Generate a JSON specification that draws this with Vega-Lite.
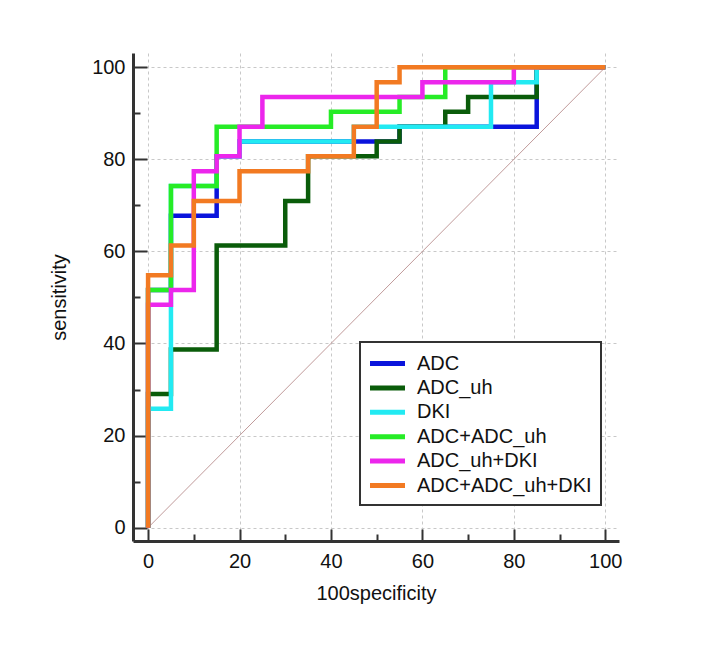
{
  "$schema": "https://vega.github.io/schema/vega-lite/v6.json",
  "width": 486,
  "height": 488,
  "autosize": "none",
  "padding": {"left": 133, "top": 53, "right": 95, "bottom": 124},
  "background": "white",
  "config": {
    "view": {"stroke": null},
    "font": "Liberation Sans",
    "legend": {"strokeWidth": 2},
    "axis": {
      "domainColor": "#333333",
      "domainWidth": 3,
      "tickColor": "#333333",
      "tickWidth": 2,
      "gridColor": "#c8c8c8",
      "gridDash": [3, 3],
      "gridWidth": 1,
      "labelFont": "Liberation Sans",
      "labelFontSize": 20,
      "labelColor": "#111111",
      "titleFont": "Liberation Sans",
      "titleFontSize": 20,
      "titleFontWeight": "normal",
      "titleColor": "#111111"
    }
  },
  "layer": [
    {
      "data": {"values": [{"x": 0, "y": 0}, {"x": 100, "y": 100}]},
      "mark": {"type": "line", "color": "#c09a9a", "strokeWidth": 1},
      "encoding": {
        "x": {
          "field": "x",
          "type": "quantitative",
          "scale": {"domain": [-3.3, 103], "nice": false, "zero": false},
          "axis": {
            "title": "100specificity",
            "values": [0, 5, 10, 15, 20, 25, 30, 35, 40, 45, 50, 55, 60, 65, 70, 75, 80, 85, 90, 95, 100],
            "labelExpr": "datum.value % 20 === 0 ? datum.label : ''",
            "tickSize": {"condition": {"test": "datum.value % 20 === 0", "value": -12}, "value": -7},
            "gridOpacity": {"condition": {"test": "datum.value % 20 === 0", "value": 1}, "value": 0},
            "labelPadding": 22,
            "labelFlush": false,
            "titlePadding": 12
          }
        },
        "y": {
          "field": "y",
          "type": "quantitative",
          "scale": {"domain": [-2.9, 103.1], "nice": false, "zero": false},
          "axis": {
            "title": "sensitivity",
            "values": [0, 5, 10, 15, 20, 25, 30, 35, 40, 45, 50, 55, 60, 65, 70, 75, 80, 85, 90, 95, 100],
            "labelExpr": "datum.value % 20 === 0 ? datum.label : ''",
            "tickSize": {"condition": {"test": "datum.value % 20 === 0", "value": -14}, "value": -7},
            "gridOpacity": {"condition": {"test": "datum.value % 20 === 0", "value": 1}, "value": 0},
            "labelPadding": 22,
            "labelFlush": false,
            "titlePadding": 22
          }
        }
      }
    },
    {
      "data": {
        "values": [
          {"series": "ADC", "i": 0, "fpr": 0, "sens": 0},
          {"series": "ADC", "i": 1, "fpr": 0, "sens": 51.61},
          {"series": "ADC", "i": 2, "fpr": 5, "sens": 67.74},
          {"series": "ADC", "i": 3, "fpr": 15, "sens": 80.65},
          {"series": "ADC", "i": 4, "fpr": 20, "sens": 83.87},
          {"series": "ADC", "i": 5, "fpr": 55, "sens": 87.1},
          {"series": "ADC", "i": 6, "fpr": 85, "sens": 100},
          {"series": "ADC", "i": 7, "fpr": 100, "sens": 100},
          {"series": "ADC_uh", "i": 0, "fpr": 0, "sens": 0},
          {"series": "ADC_uh", "i": 1, "fpr": 0, "sens": 29.03},
          {"series": "ADC_uh", "i": 2, "fpr": 5, "sens": 38.71},
          {"series": "ADC_uh", "i": 3, "fpr": 15, "sens": 61.29},
          {"series": "ADC_uh", "i": 4, "fpr": 30, "sens": 70.97},
          {"series": "ADC_uh", "i": 5, "fpr": 35, "sens": 80.65},
          {"series": "ADC_uh", "i": 6, "fpr": 50, "sens": 83.87},
          {"series": "ADC_uh", "i": 7, "fpr": 55, "sens": 87.1},
          {"series": "ADC_uh", "i": 8, "fpr": 65, "sens": 90.32},
          {"series": "ADC_uh", "i": 9, "fpr": 70, "sens": 93.55},
          {"series": "ADC_uh", "i": 10, "fpr": 85, "sens": 100},
          {"series": "ADC_uh", "i": 11, "fpr": 100, "sens": 100},
          {"series": "DKI", "i": 0, "fpr": 0, "sens": 0},
          {"series": "DKI", "i": 1, "fpr": 0, "sens": 25.81},
          {"series": "DKI", "i": 2, "fpr": 5, "sens": 74.19},
          {"series": "DKI", "i": 3, "fpr": 15, "sens": 80.65},
          {"series": "DKI", "i": 4, "fpr": 20, "sens": 83.87},
          {"series": "DKI", "i": 5, "fpr": 45, "sens": 87.1},
          {"series": "DKI", "i": 6, "fpr": 75, "sens": 96.77},
          {"series": "DKI", "i": 7, "fpr": 85, "sens": 100},
          {"series": "DKI", "i": 8, "fpr": 100, "sens": 100},
          {"series": "ADC+ADC_uh", "i": 0, "fpr": 0, "sens": 0},
          {"series": "ADC+ADC_uh", "i": 1, "fpr": 0, "sens": 51.61},
          {"series": "ADC+ADC_uh", "i": 2, "fpr": 5, "sens": 74.19},
          {"series": "ADC+ADC_uh", "i": 3, "fpr": 15, "sens": 87.1},
          {"series": "ADC+ADC_uh", "i": 4, "fpr": 40, "sens": 90.32},
          {"series": "ADC+ADC_uh", "i": 5, "fpr": 55, "sens": 93.55},
          {"series": "ADC+ADC_uh", "i": 6, "fpr": 65, "sens": 100},
          {"series": "ADC+ADC_uh", "i": 7, "fpr": 100, "sens": 100},
          {"series": "ADC_uh+DKI", "i": 0, "fpr": 0, "sens": 0},
          {"series": "ADC_uh+DKI", "i": 1, "fpr": 0, "sens": 48.39},
          {"series": "ADC_uh+DKI", "i": 2, "fpr": 5, "sens": 51.61},
          {"series": "ADC_uh+DKI", "i": 3, "fpr": 10, "sens": 77.42},
          {"series": "ADC_uh+DKI", "i": 4, "fpr": 15, "sens": 80.65},
          {"series": "ADC_uh+DKI", "i": 5, "fpr": 20, "sens": 87.1},
          {"series": "ADC_uh+DKI", "i": 6, "fpr": 25, "sens": 93.55},
          {"series": "ADC_uh+DKI", "i": 7, "fpr": 60, "sens": 96.77},
          {"series": "ADC_uh+DKI", "i": 8, "fpr": 80, "sens": 100},
          {"series": "ADC_uh+DKI", "i": 9, "fpr": 100, "sens": 100},
          {"series": "ADC+ADC_uh+DKI", "i": 0, "fpr": 0, "sens": 0},
          {"series": "ADC+ADC_uh+DKI", "i": 1, "fpr": 0, "sens": 54.84},
          {"series": "ADC+ADC_uh+DKI", "i": 2, "fpr": 5, "sens": 61.29},
          {"series": "ADC+ADC_uh+DKI", "i": 3, "fpr": 10, "sens": 70.97},
          {"series": "ADC+ADC_uh+DKI", "i": 4, "fpr": 20, "sens": 77.42},
          {"series": "ADC+ADC_uh+DKI", "i": 5, "fpr": 35, "sens": 80.65},
          {"series": "ADC+ADC_uh+DKI", "i": 6, "fpr": 45, "sens": 87.1},
          {"series": "ADC+ADC_uh+DKI", "i": 7, "fpr": 50, "sens": 96.77},
          {"series": "ADC+ADC_uh+DKI", "i": 8, "fpr": 55, "sens": 100},
          {"series": "ADC+ADC_uh+DKI", "i": 9, "fpr": 100, "sens": 100}
        ]
      },
      "mark": {"type": "line", "interpolate": "step-after", "strokeWidth": 4.5, "strokeJoin": "miter", "strokeCap": "butt"},
      "encoding": {
        "x": {"field": "fpr", "type": "quantitative"},
        "y": {"field": "sens", "type": "quantitative"},
        "order": {"field": "i", "type": "quantitative"},
        "color": {
          "field": "series",
          "type": "nominal",
          "scale": {
            "domain": ["ADC", "ADC_uh", "DKI", "ADC+ADC_uh", "ADC_uh+DKI", "ADC+ADC_uh+DKI"],
            "range": ["#0a14dc", "#0a5c0a", "#22eaf2", "#26ec26", "#ec26ec", "#f27a22"]
          },
          "legend": {
            "title": null,
            "orient": "none",
            "legendX": 227,
            "legendY": 289,
            "symbolType": "M-1.75,0H1.75",
            "symbolSize": 400,
            "symbolStrokeWidth": 5,
            "symbolOffset": 6,
            "labelFontSize": 20,
            "labelFont": "Liberation Sans",
            "labelColor": "#111111",
            "labelOffset": 17,
            "labelLimit": 400,
            "rowPadding": 1.4,
            "padding": 9,
            "fillColor": "white",
            "strokeColor": "#333333"
          }
        }
      }
    }
  ]
}
